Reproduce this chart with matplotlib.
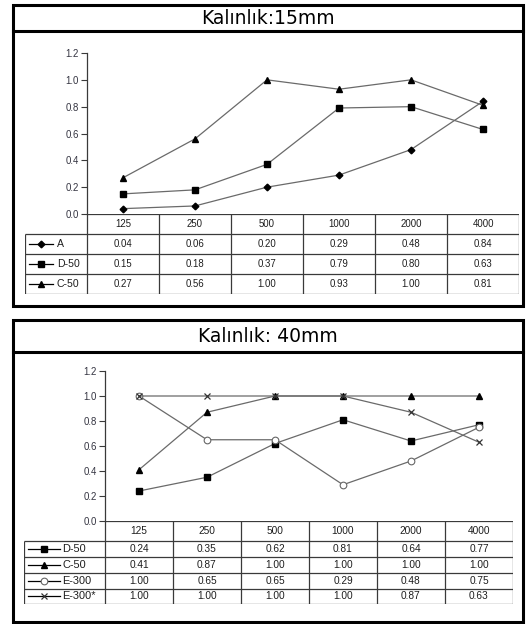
import matplotlib
matplotlib.use("Agg")
import matplotlib.pyplot as plt
from matplotlib.patches import Rectangle
from matplotlib.lines import Line2D

plt.rcParams['font.family'] = ['Liberation Sans', 'DejaVu Sans']

# ---------------- data ----------------
freqs = ['125', '250', '500', '1000', '2000', '4000']

title_top = 'Kalınlık:15mm'
top_labels = ['A', 'D-50', 'C-50']
top_A = [0.04, 0.06, 0.20, 0.29, 0.48, 0.84]
top_D50 = [0.15, 0.18, 0.37, 0.79, 0.80, 0.63]
top_C50 = [0.27, 0.56, 1.00, 0.93, 1.00, 0.81]

title_bot = 'Kalınlık: 40mm'
bot_labels = ['D-50', 'C-50', 'E-300', 'E-300*']
bot_D50 = [0.24, 0.35, 0.62, 0.81, 0.64, 0.77]
bot_C50 = [0.41, 0.87, 1.00, 1.00, 1.00, 1.00]
bot_E300 = [1.00, 0.65, 0.65, 0.29, 0.48, 0.75]
bot_E300s = [1.00, 1.00, 1.00, 1.00, 0.87, 0.63]

yticks = [0.0, 0.2, 0.4, 0.6, 0.8, 1.0, 1.2]

# ---------------- styles ----------------
W, H = 526, 624
LINE_C = '#6a6a6a'
GRID_C = '#3a3a3a'
TXT_C = '#1e1e1e'

top_styles = [
    dict(marker='D', ms=3.4, mfc='black', mec='black'),
    dict(marker='s', ms=4.8, mfc='black', mec='black'),
    dict(marker='^', ms=5.0, mfc='black', mec='black'),
]
bot_styles = [
    dict(marker='s', ms=5.0, mfc='black', mec='black'),
    dict(marker='^', ms=5.0, mfc='black', mec='black'),
    dict(marker='o', ms=4.8, mfc='white', mec='#666666', mew=0.8),
    dict(marker='x', ms=4.6, mfc='black', mec='#333333', mew=0.9),
]

fig = plt.figure(figsize=(W / 100, H / 100), dpi=100)
fig.patch.set_facecolor('white')


def rect(x0, y0, x1, y1):
    return [x0 / W, 1 - y1 / H, (x1 - x0) / W, (y1 - y0) / H]


def panel(box, title_y1, title):
    x0, y0, x1, y1 = box
    fig.patches.append(Rectangle((x0 / W, 1 - y1 / H), (x1 - x0) / W, (y1 - y0) / H,
                                 transform=fig.transFigure, fill=False,
                                 edgecolor='black', lw=2.2, zorder=5))
    fig.add_artist(Line2D([x0 / W, x1 / W], [1 - title_y1 / H] * 2,
                          transform=fig.transFigure, color='black', lw=2.2))
    fig.text((x0 + x1) / 2 / W, 1 - ((y0 + title_y1) / 2 + 0.5) / H, title,
             ha='center', va='center', fontsize=13.5, color='black',
             family=['DejaVu Sans'])


def chart(plot_px, table_px, header_h, row_hs, series, labels, styles, key_px,
          num_fs, lab_fs, tick_fs):
    # plot axes
    ax = fig.add_axes(rect(*plot_px))
    n = len(freqs)
    xs = [i + 0.5 for i in range(n)]
    for vals, st in zip(series, styles):
        ax.plot(xs, vals, color=LINE_C, lw=0.9, zorder=3, **st)
    ax.set_xlim(0, n)
    ax.set_ylim(0, 1.2)
    for s in ['top', 'right', 'bottom']:
        ax.spines[s].set_visible(False)
    ax.spines['left'].set_color(GRID_C)
    ax.spines['left'].set_linewidth(0.9)
    ax.set_xticks([])
    ax.set_yticks(yticks)
    ax.set_yticklabels([f'{t:.1f}' for t in yticks])
    ax.tick_params(axis='y', direction='out', length=4, width=0.8, color=GRID_C,
                   labelsize=tick_fs, labelcolor='#333340', pad=2)
    ax.patch.set_alpha(0)

    # table axes
    tx0, ty0, tx1, ty1 = table_px
    colw = (tx1 - plot_px[0]) / n
    w = (plot_px[0] - tx0) / colw
    tax = fig.add_axes(rect(tx0, ty0, tx1, ty1))
    tax.set_xlim(-w, n)
    total = header_h + sum(row_hs)
    tax.set_ylim(total, 0)
    tax.axis('off')
    bounds = [0, header_h]
    for h in row_hs:
        bounds.append(bounds[-1] + h)
    lw = 0.9
    tax.hlines(0, 0, n, color=GRID_C, lw=lw)
    tax.hlines(bounds[1:], -w, n, color=GRID_C, lw=lw)
    tax.vlines(range(n + 1), 0, total, color=GRID_C, lw=lw)
    tax.vlines(-w, header_h, total, color=GRID_C, lw=lw)
    for j, f in enumerate(freqs):
        tax.text(j + 0.5, header_h / 2, f, ha='center', va='center',
                 fontsize=num_fs, color=TXT_C)
    for i, (vals, lab, st) in enumerate(zip(series, labels, styles)):
        yc = (bounds[i + 1] + bounds[i + 2]) / 2
        for j, v in enumerate(vals):
            tax.text(j + 0.5, yc, f'{v:.2f}', ha='center', va='center',
                     fontsize=num_fs, color=TXT_C)
        a, b, m, t = [p / colw - w for p in key_px]
        tax.plot([a, b], [yc, yc], color='black', lw=0.9)
        tax.plot([m], [yc], color='black', ls='none', **st)
        tax.text(t, yc, lab, ha='left', va='center', fontsize=lab_fs, color=TXT_C)


# top panel
panel((13, 5, 523, 306), 31, title_top)
chart(plot_px=(87, 53, 519, 214), table_px=(25, 214, 519, 294),
      header_h=20, row_hs=[20, 20, 20],
      series=[top_A, top_D50, top_C50], labels=top_labels, styles=top_styles,
      key_px=(4, 28, 16, 32), num_fs=6.9, lab_fs=7.6, tick_fs=6.9)

# bottom panel
panel((13, 320, 523, 622), 352, title_bot)
chart(plot_px=(105, 371, 513, 521), table_px=(24, 521, 513, 604),
      header_h=20, row_hs=[16, 16, 15.5, 15.5],
      series=[bot_D50, bot_C50, bot_E300, bot_E300s], labels=bot_labels, styles=bot_styles,
      key_px=(4, 36, 20, 38), num_fs=7.3, lab_fs=7.9, tick_fs=6.9)

fig.savefig('out.png', dpi=100, facecolor='white')
